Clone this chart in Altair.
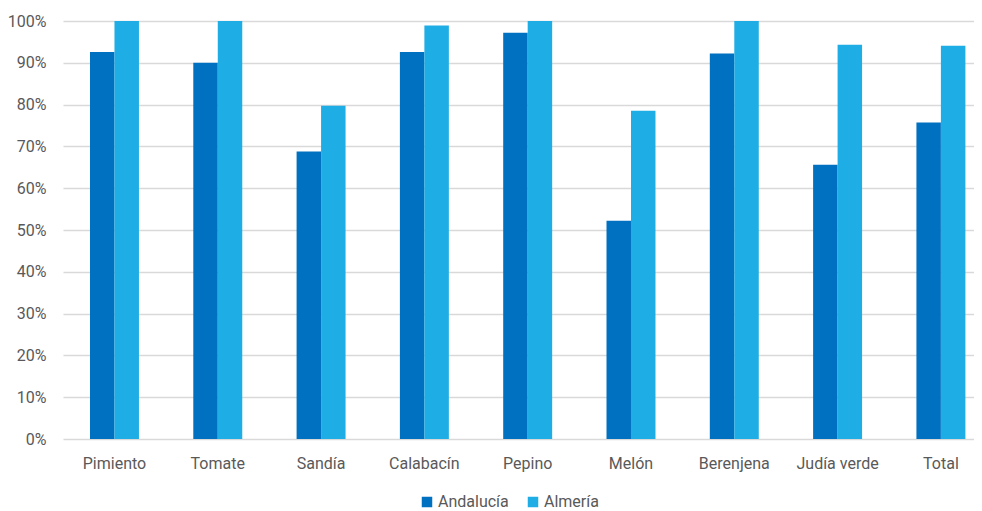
import altair as alt
import pandas as pd

categories = ["Pimiento", "Tomate", "Sandía", "Calabacín", "Pepino", "Melón", "Berenjena", "Judía verde", "Total"]
andalucia = [92.6, 90.0, 68.8, 92.6, 97.2, 52.2, 92.2, 65.6, 75.7]
almeria = [100.0, 100.0, 79.7, 98.9, 100.0, 78.5, 100.0, 94.3, 94.1]
series = ["Andalucía", "Almería"]
colors = ["#0070C0", "#1EADE4"]

rows = []
for c, a, b in zip(categories, andalucia, almeria):
    rows.append({"cat": c, "serie": series[0], "v": a / 100})
    rows.append({"cat": c, "serie": series[1], "v": b / 100})
df = pd.DataFrame(rows)

FONT = "Roboto"
TXT = "#595959"

chart = alt.Chart(df).mark_bar().encode(
    x=alt.X("cat:N", sort=categories, title=None,
            scale=alt.Scale(paddingInner=0.526, paddingOuter=0.1723, align=0.758),
            axis=alt.Axis(labelAngle=0, ticks=False, domain=False, labelPadding=16,
                          labelFontSize=16, labelColor=TXT, labelFont=FONT)),
    xOffset=alt.XOffset("serie:N", sort=series),
    y=alt.Y("v:Q", title=None,
            scale=alt.Scale(domain=[0, 1], nice=False),
            axis=alt.Axis(format=".0%", values=[i / 10 for i in range(11)], ticks=False, domain=False,
                          labelPadding=17, labelFontSize=16, labelColor=TXT, labelFont=FONT,
                          gridColor="#D9D9D9", gridWidth=1.5)),
    color=alt.Color("serie:N", sort=series,
                    scale=alt.Scale(domain=series, range=colors),
                    legend=alt.Legend(title=None, orient="none", direction="horizontal",
                                      legendX=356, legendY=473, symbolType="square",
                                      symbolSize=110, symbolStrokeWidth=0, padding=0,
                                      labelFontSize=16, labelColor=TXT, labelFont=FONT,
                                      columnPadding=16, labelOffset=3)),
).properties(
    width=911, height=418,
    autosize=alt.AutoSizeParams(type="none"),
    padding={"left": 55, "top": 13, "right": 0, "bottom": 80},
).configure_view(stroke=None)

chart.save("out.html", embed_options={"renderer": "svg", "actions": False})
